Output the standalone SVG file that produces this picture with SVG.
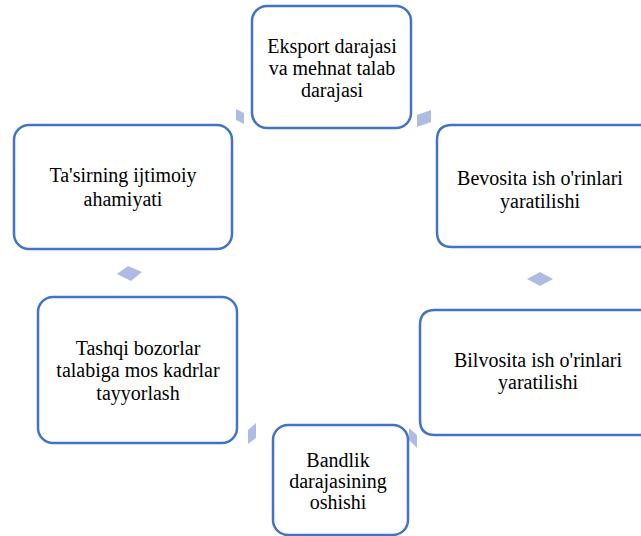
<svg xmlns="http://www.w3.org/2000/svg" width="641" height="536" viewBox="0 0 641 536">
<style>
.box{fill:#ffffff;stroke:#4472C4;stroke-width:2.5}
.arr{fill:#AEBCE3;stroke:none}
</style>
<rect width="641" height="536" fill="#ffffff"/>
<g id="connectors">
<polygon class="arr" points="236,109 244,113 244,124 236,120"/>
<polygon class="arr" points="417,115 431,110 431,122 417,127"/>
<polygon class="arr" points="527,279 540,272 553,279 540,286"/>
<polygon class="arr" points="409,428 417,435 417,448 409,440"/>
<polygon class="arr" points="248,430 256,423 256,438 248,444"/>
<polygon class="arr" points="117,274 128,266 142,272 131,281"/>
</g>
<g style="font-family:'Liberation Serif',serif;font-size:20px;fill:#000000;text-anchor:middle" font-family="Liberation Serif" font-size="20" text-anchor="middle">
<g id="node1">
<rect class="box" x="252" y="6" width="159" height="122" rx="15"/>
<text x="332" y="53">Eksport darajasi</text>
<text x="332" y="75">va mehnat talab</text>
<text x="332" y="97">darajasi</text>
</g>
<g id="node2">
<path class="box" d="M660,125 H452 Q437,125 437,140 V232 Q437,247 452,247 H660"/>
<text x="540" y="185">Bevosita ish o'rinlari</text>
<text x="540" y="208">yaratilishi</text>
</g>
<g id="node3">
<path class="box" d="M660,310 H435 Q420,310 420,325 V420 Q420,435 435,435 H660"/>
<text x="538" y="367">Bilvosita ish o'rinlari</text>
<text x="538" y="389">yaratilishi</text>
</g>
<g id="node4">
<rect class="box" x="273" y="425" width="135" height="110" rx="15"/>
<text x="338" y="467">Bandlik</text>
<text x="338" y="488">darajasining</text>
<text x="338" y="509">oshishi</text>
</g>
<g id="node5">
<rect class="box" x="38" y="297" width="199" height="146" rx="15"/>
<text x="138" y="355">Tashqi bozorlar</text>
<text x="138" y="377">talabiga mos kadrlar</text>
<text x="138" y="400">tayyorlash</text>
</g>
<g id="node6">
<rect class="box" x="14" y="125" width="218" height="124" rx="15"/>
<text x="123" y="182">Ta'sirning ijtimoiy</text>
<text x="123" y="206">ahamiyati</text>
</g>
</g>
</svg>
